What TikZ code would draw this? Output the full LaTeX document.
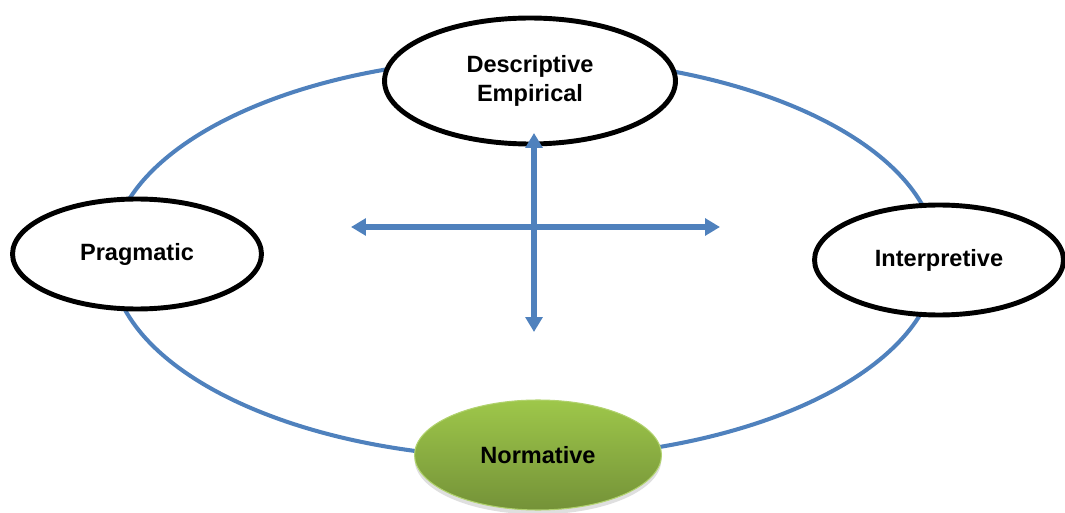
\documentclass[tikz,border=0pt]{standalone}
\usepackage{fontspec}
\setmainfont{Liberation Sans}
\usetikzlibrary{shapes.geometric,arrows.meta,shadows}
\usepackage{xcolor}
\definecolor{ringblue}{RGB}{79,129,189}
\definecolor{normtop}{RGB}{158,199,74}
\definecolor{normbottom}{RGB}{116,146,56}

\begin{document}
\begin{tikzpicture}[x=0.02cm,y=-0.02cm,
    view/.style={ellipse, draw=black, line width=2.8pt, fill=white, inner sep=0pt, align=center, font=\fontsize{13.4}{16.5}\selectfont\bfseries},
    axis/.style={ringblue, line width=3pt, {Triangle[width=9.5pt,length=8.5pt]}-{Triangle[width=9.5pt,length=8.5pt]}}]
                \useasboundingbox (0,0) rectangle (1065,513);

                % Outer ring
                \draw[ringblue, line width=2.3pt] (524,258) ellipse [x radius=413, y radius=200];

                % Views on the ring
                \node[view, minimum width=5.82cm, minimum height=2.52cm] (descriptive) at (530,81) {Descriptive\\Empirical};
                \node[view, minimum width=4.98cm, minimum height=2.2cm] (pragmatic) at (137,254) {Pragmatic};
                \node[view, minimum width=4.98cm, minimum height=2.2cm] (interpretive) at (939,260) {Interpretive};
                \node[view, draw=normtop!80!white, line width=0.6pt, top color=normtop, bottom color=normbottom, minimum width=4.94cm, minimum height=2.2cm, drop shadow={shadow xshift=0pt, shadow yshift=-2.5pt, opacity=0.25}] (normative) at (538,455) {Normative};

                % Cross of arrows
                \coordinate (up) at (534,133);
                \coordinate (down) at (534,332);
                \coordinate (left) at (351,227);
                \coordinate (right) at (720,227);
                \draw[axis] (down) -- (up);
                \draw[axis] (left) -- (right);
            \end{tikzpicture}
\end{document}
